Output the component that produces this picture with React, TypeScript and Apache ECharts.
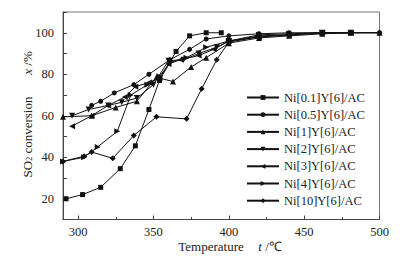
import React, { useEffect, useRef } from "react";
import * as echarts from "echarts";

const seriesNames = [
  "Ni[0.1]Y[6]/AC",
  "Ni[0.5]Y[6]/AC",
  "Ni[1]Y[6]/AC",
  "Ni[2]Y[6]/AC",
  "Ni[3]Y[6]/AC",
  "Ni[4]Y[6]/AC",
  "Ni[10]Y[6]/AC",
];

const ni01: number[][] = [[292, 20], [303, 22], [315, 25.5], [328, 34.5], [338, 45.5], [347, 63], [354, 77], [365, 91], [374, 98.5], [385, 100], [395, 100]];
const ni05: number[][] = [[309, 65], [315, 67], [324, 71], [337, 75], [347, 80], [361, 87], [374, 92], [385, 97], [400, 98.5], [420, 99.5], [440, 100], [462, 100], [481, 100], [500, 100]];
const ni1: number[][] = [[290, 59.5], [309, 60], [325, 64], [339, 67], [352, 78.5], [363, 76.5], [375, 83.5], [385, 88], [400, 95], [420, 97.5], [440, 98.5], [462, 99.5], [481, 100], [500, 100]];
const ni2: number[][] = [[296, 60], [307, 63], [320, 65], [329, 66.5], [339, 68.5], [350, 75], [360, 86.5], [370, 87], [380, 90], [392, 93], [400, 96], [420, 98.5], [440, 99], [462, 100], [481, 100]];
const ni3: number[][] = [[296, 55], [309, 60], [320, 65], [331, 69], [338, 74], [347, 76], [354, 78], [360, 85], [368, 87], [380, 89], [390, 92], [400, 96], [420, 98], [440, 99], [462, 100], [481, 100]];
const ni4: number[][] = [[290, 38], [304, 40], [313, 45], [326, 52.5], [335, 70], [346, 75], [354, 79], [362, 86], [372, 88], [385, 93], [400, 96], [420, 99], [440, 99.5], [462, 100], [481, 100]];
const ni10: number[][] = [[290, 38], [304, 40.5], [309, 42.5], [323, 39.5], [337, 50.5], [352, 59.5], [372, 58.5], [382, 73], [392, 87], [400, 95.5], [420, 98], [440, 99], [462, 100], [481, 100], [500, 100]];

const seriesData = [ni01, ni05, ni1, ni2, ni3, ni4, ni10];
const symbols = ["rect", "circle", "triangle", "triangle", "triangle", "triangle", "diamond"];
const rotations = [0, 0, 0, 180, 90, -90, 0];
const symbolSizes = [5, 5, 6, 6, 6, 6, 6];

const xMajor = [300, 350, 400, 450, 500];
const xMinor = [325, 375, 425, 475];
const yLabels = [20, 40, 60, 80, 100];

const FONT = "Liberation Serif";

export default function App() {
  const ref = useRef<HTMLDivElement>(null);
  useEffect(() => {
    if (!ref.current) return;
    const chart = echarts.init(ref.current, undefined, { renderer: "svg" });
    const axisColor = "#444";
    chart.setOption({
      animation: false,
      backgroundColor: "#fff",
      textStyle: { fontFamily: FONT },
      grid: {
        left: 63,
        top: 12,
        right: 22.5,
        bottom: 42.5,
        show: true,
        borderColor: "#777",
        borderWidth: 1,
        backgroundColor: "transparent",
      },
      xAxis: [
        {
          type: "value",
          min: 290,
          max: 500,
          position: "bottom",
          axisLine: { show: true, lineStyle: { color: axisColor, width: 1 } },
          axisTick: { show: true, inside: true, length: 4, customValues: xMajor, lineStyle: { color: axisColor } },
          axisLabel: { customValues: xMajor, color: "#222", fontSize: 12.5, fontFamily: FONT, margin: 6 },
          splitLine: { show: false },
        },
        {
          type: "value",
          min: 290,
          max: 500,
          position: "bottom",
          axisLine: { show: false },
          axisTick: { show: true, inside: true, length: 2.5, customValues: xMinor, lineStyle: { color: axisColor } },
          axisLabel: { show: false },
          splitLine: { show: false },
        },
      ],
      yAxis: {
        type: "value",
        min: 10,
        max: 110,
        interval: 10,
        axisLine: { show: true, lineStyle: { color: axisColor, width: 1 } },
        axisTick: { show: true, inside: true, length: 4, lineStyle: { color: axisColor } },
        axisLabel: { customValues: yLabels, color: "#222", fontSize: 12.5, fontFamily: FONT, margin: 9 },
        splitLine: { show: false },
      },
      legend: {
        orient: "vertical",
        left: 241,
        top: 86,
        itemWidth: 32,
        itemHeight: 6,
        itemGap: 4.2,
        textStyle: { color: "#222", fontSize: 12.5, fontFamily: FONT },
        data: seriesNames,
      },
      series: seriesNames.map((name, i) => ({
        name,
        type: "line",
        data: seriesData[i],
        symbol: symbols[i],
        symbolRotate: rotations[i],
        symbolSize: symbolSizes[i],
        showAllSymbol: true,
        lineStyle: { color: "#111", width: 1 },
        itemStyle: { color: "#111" },
        emphasis: { disabled: true },
      })),
      graphic: [
        {
          type: "text",
          x: 27,
          y: 137,
          rotation: Math.PI / 2,
          style: {
            text: "SO{sub|2} conversion",
            fontSize: 13,
            fontFamily: FONT,
            fill: "#222",
            align: "center",
            verticalAlign: "middle",
            rich: {
              sub: { fontSize: 8, fontFamily: FONT, fill: "#222", verticalAlign: "bottom", padding: [5, 0, 0, 0] },
            },
          },
        },
        {
          type: "text",
          x: 27,
          y: 63,
          rotation: Math.PI / 2,
          style: {
            text: "{i|x} /%",
            fontSize: 13,
            fontFamily: FONT,
            fill: "#222",
            align: "center",
            verticalAlign: "middle",
            rich: {
              i: { fontSize: 13, fontFamily: FONT, fontStyle: "italic", fill: "#222" },
            },
          },
        },
        {
          type: "text",
          x: 211,
          y: 246,
          style: {
            text: "Temperature",
            fontSize: 13,
            fontFamily: FONT,
            fill: "#222",
            align: "center",
            verticalAlign: "middle",
          },
        },
        {
          type: "text",
          x: 270,
          y: 246,
          style: {
            text: "{i|t} /℃",
            fontSize: 13,
            fontFamily: FONT,
            fill: "#222",
            align: "center",
            verticalAlign: "middle",
            rich: {
              i: { fontSize: 13, fontFamily: FONT, fontStyle: "italic", fill: "#222" },
            },
          },
        },
      ],
    });
    return () => chart.dispose();
  }, []);
  return <div ref={ref} style={{ width: 402, height: 262, position: "absolute", left: 0, top: 0 }} />;
}
